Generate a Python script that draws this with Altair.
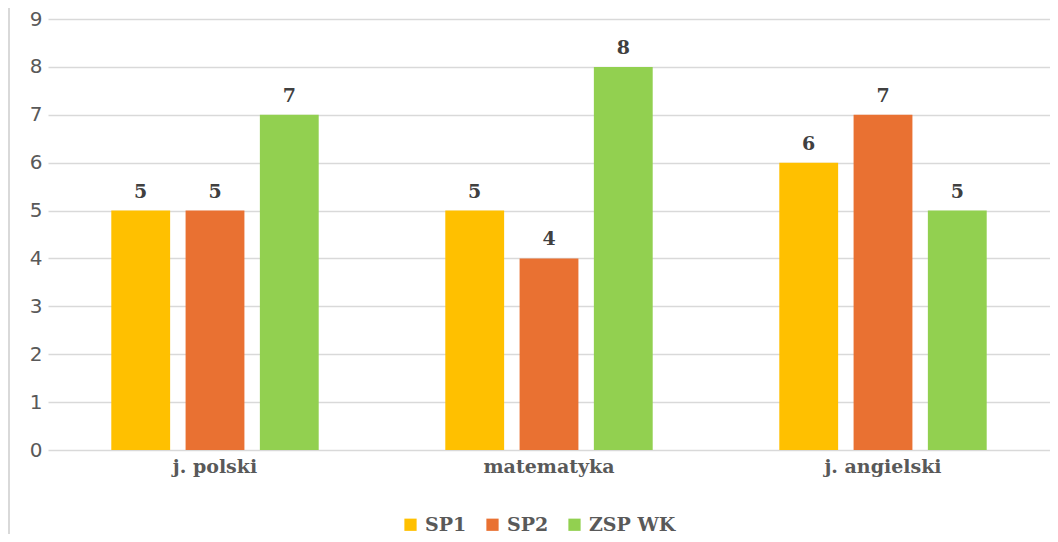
import altair as alt
import pandas as pd

categories = ["j. polski", "matematyka", "j. angielski"]
series = ["SP1", "SP2", "ZSP WK"]
sp1 = [5, 5, 6]
sp2 = [5, 4, 7]
zsp_wk = [7, 8, 5]
colors = ["#FFC000", "#E97132", "#92D050"]
y_ticks = [0, 1, 2, 3, 4, 5, 6, 7, 8, 9]

rows = []
for i, c in enumerate(categories):
    for s, vals in zip(series, [sp1, sp2, zsp_wk]):
        rows.append({"kategoria": c, "seria": s, "wartosc": vals[i]})
df = pd.DataFrame(rows)

W = 1002
H = 431

base = alt.Chart(df).encode(
    x=alt.X(
        "kategoria:N",
        sort=categories,
        scale=alt.Scale(paddingInner=0, paddingOuter=0),
        axis=alt.Axis(
            title=None, labelAngle=0, ticks=False, domain=False,
            labelFont="DejaVu Serif", labelFontWeight="bold", labelFontSize=19,
            labelColor="#595959", labelPadding=7,
        ),
    ),
    xOffset=alt.XOffset(
        "seria:N", sort=series,
        scale=alt.Scale(paddingInner=0.208, paddingOuter=0.852),
    ),
)

bars = base.mark_bar().encode(
    y=alt.Y(
        "wartosc:Q",
        scale=alt.Scale(domain=[0, 9], nice=False),
        axis=alt.Axis(
            title=None, values=y_ticks, ticks=False, domain=False,
            grid=True, gridColor="#D9D9D9", gridWidth=1.5,
            labelFont="DejaVu Sans", labelFontSize=20, labelColor="#595959",
            labelPadding=6,
        ),
    ),
    color=alt.Color(
        "seria:N",
        sort=series,
        scale=alt.Scale(domain=series, range=colors),
        legend=alt.Legend(
            title=None, orient="none", direction="horizontal",
            legendX=353, legendY=496, padding=0,
            symbolType="square", symbolSize=150, symbolStrokeWidth=0,
            labelFont="DejaVu Serif", labelFontWeight="bold", labelFontSize=19,
            labelColor="#595959", labelOffset=5, columnPadding=16,
        ),
    ),
)

labels = base.mark_text(
    dy=-9, baseline="bottom", font="DejaVu Serif", fontWeight="bold",
    fontSize=19, color="#404040",
).encode(
    y=alt.Y("wartosc:Q"),
    text=alt.Text("wartosc:Q"),
)

border = alt.Chart(pd.DataFrame({"a": [0]})).mark_rule(
    color="#D9D9D9", strokeWidth=2
).encode(x=alt.value(-39), y=alt.value(-11), y2=alt.value(515))

chart = alt.layer(border, bars, labels).properties(
    width=W, height=H,
    autosize=alt.AutoSizeParams(type="none"),
    padding={"left": 40, "top": 11, "right": 0, "bottom": 84},
).configure_view(stroke=None)

chart.save("out.html", embed_options={"renderer": "svg", "actions": False})
